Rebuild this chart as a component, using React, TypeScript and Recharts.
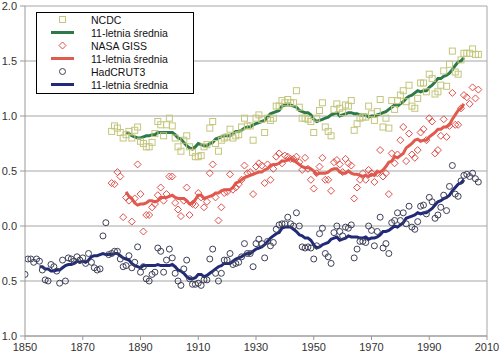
import React from "react";
import { ComposedChart, Scatter, Line, XAxis, YAxis, CartesianGrid, ReferenceLine } from "recharts";

// roczne anomalie
const hadcrutStart = 1850;
const hadcrut = [
  -0.44, -0.30, -0.30, -0.33, -0.30, -0.32, -0.40, -0.49, -0.50, -0.35,
  -0.37, -0.41, -0.52, -0.31, -0.50, -0.29, -0.30, -0.32, -0.28, -0.31,
  -0.29, -0.34, -0.25, -0.33, -0.38, -0.40, -0.39, -0.09, 0.03, -0.26,
  -0.25, -0.23, -0.23, -0.30, -0.37, -0.36, -0.27, -0.38, -0.33, -0.19,
  -0.42, -0.37, -0.48, -0.50, -0.44, -0.42, -0.20, -0.23, -0.42, -0.31,
  -0.21, -0.29, -0.43, -0.50, -0.54, -0.39, -0.31, -0.48, -0.53, -0.53,
  -0.52, -0.54, -0.49, -0.49, -0.30, -0.21, -0.43, -0.50, -0.43, -0.31,
  -0.31, -0.25, -0.35, -0.34, -0.33, -0.28, -0.16, -0.25, -0.25, -0.37,
  -0.16, -0.12, -0.16, -0.29, -0.14, -0.18, -0.15, -0.03, 0.01, 0.02,
  0.02, 0.08, 0.02, 0.00, 0.12, 0.00, -0.19, -0.20, -0.19, -0.20,
  -0.30, -0.18, -0.07, -0.02, -0.25, -0.28, -0.34, -0.06, 0.00, -0.05,
  -0.09, -0.01, -0.02, 0.01, -0.29, -0.21, -0.14, -0.14, -0.15, 0.00,
  -0.04, -0.18, -0.05, 0.08, -0.20, -0.16, -0.25, 0.03, 0.05, 0.12,
  0.05, 0.12, 0.02, 0.18, -0.01, -0.03, 0.04, 0.18, 0.19, 0.11,
  0.26, 0.22, 0.07, 0.10, 0.17, 0.28, 0.14, 0.36, 0.55, 0.29,
  0.27, 0.41, 0.46, 0.47, 0.45, 0.48, 0.43, 0.40,
];

const hadcrutMeanStart = 1855;
const hadcrutMean = [
  -0.37, -0.37, -0.39, -0.39, -0.41,
  -0.41, -0.40, -0.40, -0.38, -0.36, -0.35, -0.35, -0.34, -0.32, -0.33,
  -0.32, -0.33, -0.31, -0.28, -0.27, -0.27, -0.26, -0.25, -0.26, -0.26,
  -0.26, -0.25, -0.25, -0.27, -0.29, -0.30, -0.31, -0.34, -0.36, -0.37,
  -0.38, -0.36, -0.36, -0.36, -0.36, -0.36, -0.35, -0.36, -0.36, -0.36,
  -0.36, -0.35, -0.37, -0.40, -0.41, -0.43, -0.46, -0.48, -0.48, -0.47,
  -0.44, -0.44, -0.46, -0.45, -0.43, -0.41, -0.39, -0.37, -0.36, -0.34,
  -0.34, -0.34, -0.32, -0.30, -0.29, -0.28, -0.26, -0.25, -0.25, -0.23,
  -0.21, -0.20, -0.19, -0.17, -0.14, -0.11, -0.09, -0.07, -0.06, -0.02,
  -0.01, -0.01, -0.01, -0.03, -0.05, -0.08, -0.09, -0.11, -0.11, -0.13,
  -0.17, -0.20, -0.19, -0.17, -0.16, -0.15, -0.12, -0.11, -0.10, -0.13,
  -0.12, -0.11, -0.09, -0.10, -0.10, -0.10, -0.11, -0.11, -0.10, -0.12,
  -0.11, -0.11, -0.10, -0.08, -0.05, -0.05, -0.04, -0.02, 0.00, -0.01,
  0.01, 0.03, 0.07, 0.08, 0.09, 0.10, 0.12, 0.11, 0.12, 0.12,
  0.14, 0.16, 0.19, 0.22, 0.23, 0.25, 0.26, 0.28, 0.32, 0.35,
  0.38, 0.39, 0.42,
];

const gissStart = 1880;
const giss = [
  0.39, 0.38, 0.49, 0.45, 0.08, 0.26, 0.23, 0.04, 0.25, 0.56,
  0.29, -0.05, 0.10, 0.10, 0.17, 0.20, 0.28, 0.35, 0.23, 0.29,
  0.45, 0.45, 0.21, 0.15, 0.09, 0.23, 0.35, 0.10, 0.20, 0.19,
  0.30, 0.26, 0.17, 0.22, 0.48, 0.56, 0.26, 0.05, 0.17, 0.30,
  0.31, 0.47, 0.33, 0.35, 0.38, 0.42, 0.55, 0.48, 0.49, 0.29,
  0.54, 0.57, 0.55, 0.39, 0.56, 0.42, 0.52, 0.63, 0.66, 0.57,
  0.64, 0.63, 0.61, 0.61, 0.63, 0.58, 0.51, 0.62, 0.52, 0.42,
  0.34, 0.48, 0.54, 0.62, 0.42, 0.42, 0.32, 0.58, 0.60, 0.56,
  0.49, 0.61, 0.57, 0.55, 0.25, 0.35, 0.42, 0.48, 0.42, 0.51,
  0.48, 0.40, 0.48, 0.69, 0.45, 0.48, 0.29, 0.66, 0.57, 0.65,
  0.78, 0.90, 0.59, 0.84, 0.65, 0.62, 0.69, 0.85, 0.88, 0.78,
  0.98, 0.95, 0.66, 0.69, 0.82, 0.97, 0.81, 0.91, 1.21, 0.92,
  0.92, 1.07, 1.19, 1.17, 1.11, 1.26, 1.16, 1.24,
];

const gissMeanStart = 1885;
const gissMean = [
  0.31, 0.27, 0.25, 0.21, 0.19, 0.20,
  0.20, 0.21, 0.23, 0.23, 0.22,
  0.23, 0.26, 0.26, 0.26, 0.27,
  0.28, 0.26, 0.25, 0.25, 0.25,
  0.23, 0.20, 0.21, 0.24, 0.28,
  0.28, 0.25, 0.26, 0.27, 0.28,
  0.30, 0.30, 0.32, 0.33, 0.33,
  0.33, 0.35, 0.39, 0.40, 0.42,
  0.44, 0.45, 0.46, 0.47, 0.48,
  0.49, 0.49, 0.51, 0.52, 0.55,
  0.56, 0.56, 0.57, 0.59, 0.59,
  0.60, 0.61, 0.60, 0.58, 0.56,
  0.54, 0.53, 0.53, 0.52, 0.50,
  0.47, 0.48, 0.48, 0.48, 0.49,
  0.51, 0.52, 0.52, 0.49, 0.48,
  0.48, 0.50, 0.48, 0.47, 0.47,
  0.46, 0.45, 0.46, 0.45, 0.47,
  0.46, 0.49, 0.49, 0.51, 0.54,
  0.58, 0.59, 0.63, 0.62, 0.64,
  0.66, 0.71, 0.73, 0.75, 0.78,
  0.79, 0.77, 0.78, 0.78, 0.81,
  0.83, 0.85, 0.88, 0.88, 0.90,
  0.90, 0.92, 0.97, 1.01, 1.05,
  1.07, 1.11,
];

const ncdcStart = 1880;
const ncdc = [
  0.86, 0.91, 0.89, 0.85, 0.80, 0.83, 0.86, 0.80, 0.87, 0.90,
  0.77, 0.75, 0.72, 0.72, 0.76, 0.84, 0.95, 0.92, 0.82, 0.92,
  0.98, 0.91, 0.80, 0.72, 0.68, 0.78, 0.82, 0.72, 0.67, 0.63,
  0.63, 0.64, 0.72, 0.74, 0.89, 0.95, 0.75, 0.68, 0.78, 0.80,
  0.81, 0.88, 0.80, 0.82, 0.83, 0.90, 0.98, 0.91, 0.91, 0.78,
  0.98, 1.01, 0.97, 0.85, 0.98, 0.96, 0.98, 1.09, 1.09, 1.14,
  1.12, 1.15, 1.12, 1.12, 1.23, 1.08, 0.98, 0.98, 0.97, 0.95,
  0.85, 0.98, 1.05, 1.12, 0.90, 0.86, 0.82, 1.06, 1.11, 1.07,
  1.03, 1.10, 1.09, 1.14, 0.87, 0.93, 0.98, 0.99, 0.99, 1.09,
  1.02, 0.96, 1.04, 1.15, 0.90, 0.98, 0.89, 1.14, 1.06, 1.14,
  1.19, 1.23, 1.13, 1.28, 1.09, 1.07, 1.16, 1.30, 1.30, 1.22,
  1.38, 1.34, 1.20, 1.22, 1.28, 1.41, 1.27, 1.47, 1.59, 1.40,
  1.38, 1.51, 1.57, 1.57, 1.57, 1.61, 1.56, 1.56,
];

const ncdcMeanStart = 1885;
const ncdcMean = [
  0.85, 0.84, 0.82, 0.81, 0.80, 0.80,
  0.81, 0.82, 0.82, 0.83, 0.83,
  0.85, 0.85, 0.85, 0.85, 0.85,
  0.85, 0.83, 0.80, 0.79, 0.76,
  0.73, 0.71, 0.70, 0.72, 0.75,
  0.74, 0.73, 0.73, 0.75, 0.76,
  0.79, 0.80, 0.81, 0.82, 0.82,
  0.82, 0.84, 0.86, 0.86, 0.87,
  0.89, 0.90, 0.90, 0.92, 0.93,
  0.94, 0.95, 0.96, 0.99, 1.02,
  1.03, 1.04, 1.05, 1.09, 1.10,
  1.10, 1.10, 1.09, 1.08, 1.05,
  1.04, 1.03, 1.03, 1.01, 0.97,
  0.95, 0.96, 0.97, 0.98, 0.99,
  1.01, 1.02, 1.03, 1.00, 1.01,
  1.02, 1.03, 1.03, 1.02, 1.02,
  1.01, 1.01, 1.01, 0.99, 1.00,
  1.00, 1.01, 1.02, 1.03, 1.04,
  1.06, 1.08, 1.10, 1.09, 1.11,
  1.13, 1.16, 1.18, 1.19, 1.21,
  1.23, 1.22, 1.23, 1.23, 1.26,
  1.28, 1.31, 1.34, 1.34, 1.36,
  1.37, 1.39, 1.42, 1.46, 1.49,
  1.50, 1.53,
];

const xTicks = [1850, 1870, 1890, 1910, 1930, 1950, 1970, 1990, 2010];
const yTicks = [-1, -0.5, 0, 0.5, 1, 1.5, 2];

const toPoints = (start: number, values: number[]) =>
  values.map((v, i) => ({ year: start + i, value: v }));

const ncdcPts = toPoints(ncdcStart, ncdc);
const ncdcMeanPts = toPoints(ncdcMeanStart, ncdcMean);
const gissPts = toPoints(gissStart, giss);
const gissMeanPts = toPoints(gissMeanStart, gissMean);
const hadPts = toPoints(hadcrutStart, hadcrut);
const hadMeanPts = toPoints(hadcrutMeanStart, hadcrutMean);

const C_NCDC = "#c4c67c";
const C_NCDC_LINE = "#2b7a47";
const C_GISS = "#e0504a";
const C_GISS_LINE = "#e05a4e";
const C_HAD = "#3e4158";
const C_HAD_LINE = "#202a78";

const FONT = "'Liberation Sans', Arial, sans-serif";

const Square = (p: any) => (
  <rect x={p.cx - 3} y={p.cy - 3} width={6} height={6} fill="none" stroke={C_NCDC} strokeWidth={1} />
);
const Diamond = (p: any) => (
  <path
    d={`M${p.cx},${p.cy - 3.5}L${p.cx + 3.5},${p.cy}L${p.cx},${p.cy + 3.5}L${p.cx - 3.5},${p.cy}Z`}
    fill="none"
    stroke={C_GISS}
    strokeWidth={1}
  />
);
const Circle = (p: any) => (
  <circle cx={p.cx} cy={p.cy} r={3} fill="none" stroke={C_HAD} strokeWidth={1} />
);

function LegendBox() {
  const rows = [
    { label: "NCDC", kind: "square" },
    { label: "11-letnia średnia", kind: "line", color: C_NCDC_LINE },
    { label: "NASA GISS", kind: "diamond" },
    { label: "11-letnia średnia", kind: "line", color: C_GISS_LINE },
    { label: "HadCRUT3", kind: "circle" },
    { label: "11-letnia średnia", kind: "line", color: C_HAD_LINE },
  ];
  return (
    <svg width={158} height={82} style={{ position: "absolute", left: 35.5, top: 11.5 }}>
      <rect x={0.5} y={0.5} width={157} height={81} fill="#fff" stroke="#000" strokeWidth={1} />
      {rows.map((r, i) => {
        const cy = 7.5 + i * 13;
        let sym: React.ReactNode = null;
        if (r.kind === "square") sym = <Square cx={26.5} cy={cy} />;
        if (r.kind === "diamond") sym = <Diamond cx={26.5} cy={cy} />;
        if (r.kind === "circle") sym = <Circle cx={26.5} cy={cy} />;
        if (r.kind === "line")
          sym = <line x1={15} x2={38} y1={cy} y2={cy} stroke={r.color} strokeWidth={3} />;
        return (
          <g key={i}>
            {sym}
            <text x={55} y={cy + 4} fontSize={10.5} fontFamily={FONT} fill="#111">
              {r.label}
            </text>
          </g>
        );
      })}
    </svg>
  );
}

export default function App() {
  return (
    <div style={{ position: "absolute", left: 0, top: 0, width: 500, height: 354, background: "#fff" }}>
      <ComposedChart width={500} height={354} margin={{ top: 6, right: 13, bottom: 0, left: 0 }}>
        <CartesianGrid vertical={false} stroke="#a6a6a6" strokeWidth={1} />
        <XAxis
          dataKey="year"
          type="number"
          domain={[1850, 2010]}
          ticks={xTicks}
          interval={0}
          height={18}
          tickSize={4}
          tickMargin={3}
          stroke="#999"
          tick={{ fill: "#333", fontSize: 11, fontFamily: FONT }}
          allowDataOverflow
        />
        <YAxis
          type="number"
          domain={[-1, 2]}
          ticks={yTicks}
          interval={0}
          width={25}
          tickSize={5}
          tickMargin={3}
          stroke="#999"
          tickFormatter={(v: number) => Math.abs(v).toFixed(1)}
          tick={{ fill: "#333", fontSize: 11, fontFamily: FONT }}
        />
        <ReferenceLine x={2010} stroke="#a6a6a6" />
        <Scatter data={ncdcPts} dataKey="value" shape={Square} isAnimationActive={false} />
        <Scatter data={gissPts} dataKey="value" shape={Diamond} isAnimationActive={false} />
        <Scatter data={hadPts} dataKey="value" shape={Circle} isAnimationActive={false} />
        <Line data={ncdcMeanPts} dataKey="value" type="linear" stroke={C_NCDC_LINE} strokeWidth={3} dot={false} isAnimationActive={false} />
        <Line data={gissMeanPts} dataKey="value" type="linear" stroke={C_GISS_LINE} strokeWidth={3} dot={false} isAnimationActive={false} />
        <Line data={hadMeanPts} dataKey="value" type="linear" stroke={C_HAD_LINE} strokeWidth={3} dot={false} isAnimationActive={false} />
      </ComposedChart>
      <LegendBox />
    </div>
  );
}
